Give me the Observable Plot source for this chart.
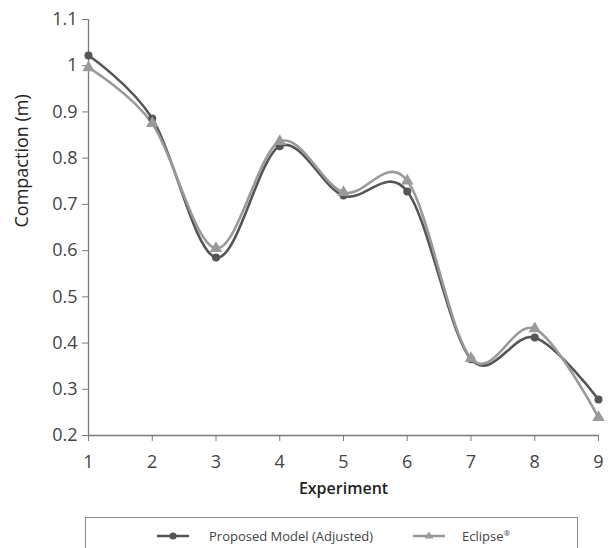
<!DOCTYPE html>
<html>
<head>
<meta charset="utf-8">
<script src="https://cdn.jsdelivr.net/npm/d3@7"></script>
<script src="https://cdn.jsdelivr.net/npm/@observablehq/plot@0.6"></script>
<style>
  body { margin: 0; background: #fff; font-family: "Open Sans", Lato, sans-serif; }
  #wrap { position: relative; width: 614px; height: 548px; overflow: hidden; }
  #legend { position: absolute; left: 85px; top: 517px; width: 493px; height: 60px;
            border: 1px solid #8a8a8a; box-sizing: border-box; }
  .item { position: absolute; top: 9px; display: flex; align-items: center;
          font-size: 13px; font-weight: 400; color: #444; white-space: nowrap; }
</style>
</head>
<body>
<div id="wrap">
  <div id="chart"></div>
  <div id="legend">
    <div class="item" style="left:70px">
      <svg width="34" height="12" style="margin-right:19px"><line x1="1" y1="6" x2="33" y2="6" stroke="#555" stroke-width="2.5"/><circle cx="17" cy="6" r="3.6" fill="#555"/></svg>
      <span>Proposed Model (Adjusted)</span>
    </div>
    <div class="item" style="left:326px">
      <svg width="34" height="12" style="margin-right:16px"><line x1="1" y1="6" x2="33" y2="6" stroke="#999" stroke-width="2.5"/><path d="M17,1.5 L21.5,8.5 L12.5,8.5 Z" fill="#999"/></svg>
      <span>Eclipse<sup style="font-size:8px">®</sup></span>
    </div>
  </div>
</div>
<script>
const experiments = [1, 2, 3, 4, 5, 6, 7, 8, 9];
const proposedModel = [1.022, 0.886, 0.585, 0.826, 0.719, 0.728, 0.365, 0.412, 0.278];
const eclipse = [0.996, 0.875, 0.605, 0.836, 0.726, 0.751, 0.367, 0.431, 0.239];
const yTicks = [0.2, 0.3, 0.4, 0.5, 0.6, 0.7, 0.8, 0.9, 1.0, 1.1];
const seriesNames = ["Proposed Model (Adjusted)", "Eclipse®"];

const dataP = experiments.map((x, i) => ({x, y: proposedModel[i], s: seriesNames[0]}));
const dataE = experiments.map((x, i) => ({x, y: eclipse[i], s: seriesNames[1]}));

const axisColor = "#7a7a7a";
const chart = Plot.plot({
  width: 614,
  height: 505,
  marginLeft: 88,
  marginRight: 16,
  marginTop: 19,
  marginBottom: 70,
  style: { fontFamily: "'Open Sans', Lato, sans-serif", background: "#fff" },
  x: { domain: [1, 9] },
  y: { domain: [0.2, 1.1] },
  marks: [
    Plot.axisX(experiments, { tickSize: 6, tickPadding: 14, fontSize: 18, fontWeight: 400, color: "#444", stroke: axisColor, label: null, tickFormat: d => String(d) }),
    Plot.axisY(yTicks, { tickSize: 6, tickPadding: 5, fontSize: 18, fontWeight: 400, color: "#444", stroke: axisColor, label: null, tickFormat: d => String(+d.toFixed(1)) }),
    Plot.ruleY([0.2], { stroke: axisColor, strokeWidth: 1.3 }),
    Plot.ruleX([1], { stroke: axisColor, strokeWidth: 1.3 }),
    Plot.line(dataP, { x: "x", y: "y", stroke: "#555", strokeWidth: 2.6, curve: "cardinal" }),
    Plot.line(dataE, { x: "x", y: "y", stroke: "#9a9a9a", strokeWidth: 2.6, curve: "cardinal" }),
    Plot.dot(dataP, { x: "x", y: "y", r: 4, fill: "#555", symbol: "circle" }),
    Plot.dot(dataE, { x: "x", y: "y", r: 4.6, fill: "#9a9a9a", symbol: "triangle" }),
    Plot.text(["Experiment"], { frameAnchor: "bottom", dy: 53, fontSize: 16, fontWeight: 600, fill: "#222", lineAnchor: "middle" }),
    Plot.text(["Compaction (m)"], { frameAnchor: "left", dx: -66, rotate: -90, fontSize: 18, fontWeight: 400, fill: "#222", lineAnchor: "middle" })
  ]
});
document.getElementById("chart").appendChild(chart);
</script>
</body>
</html>
